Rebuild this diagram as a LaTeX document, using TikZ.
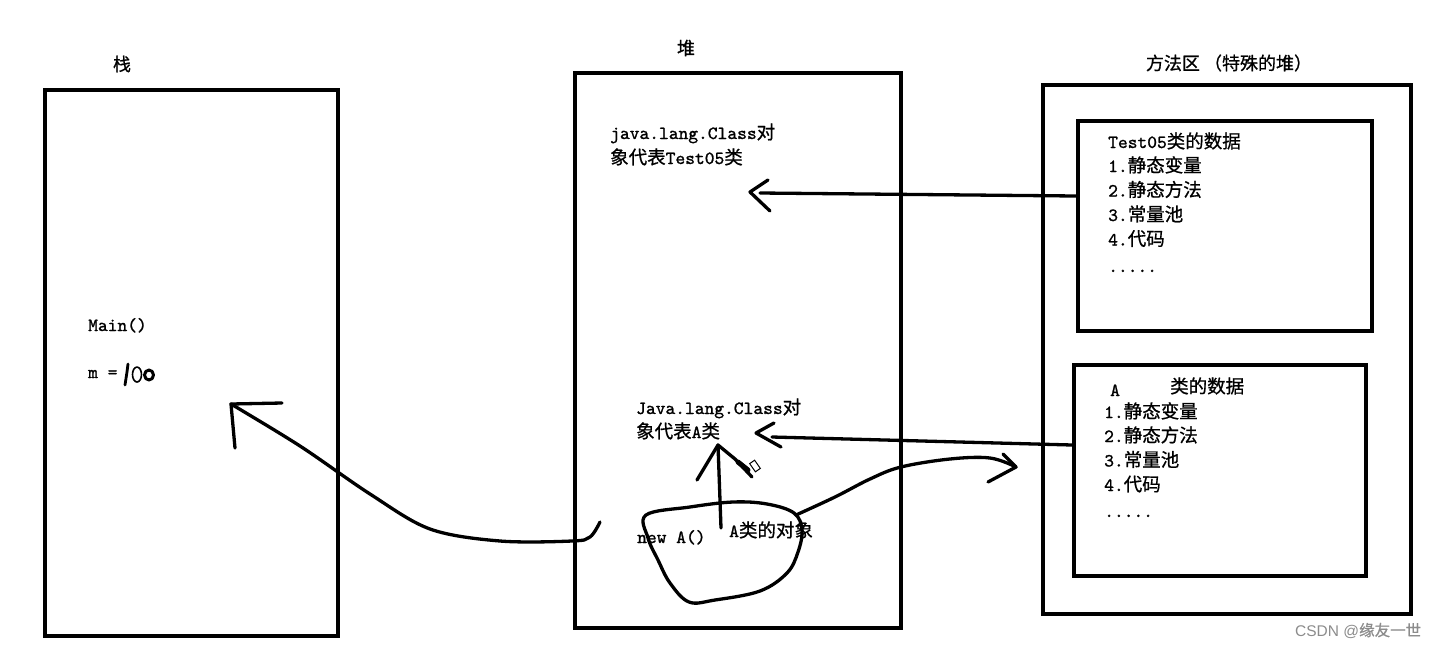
\documentclass[tikz,border=0pt]{standalone}
\usepackage{fontspec}
\setmainfont{lmmono10-regular.otf}[FakeBold=1.2]
\newfontfamily\cjk{Noto Sans CJK SC}[FakeBold=0.8]
\newfontfamily\wmfont{Liberation Sans}
\newcommand\zh[1]{{\cjk\fontsize{18.5}{22}\selectfont #1}}
\begin{document}
\begin{tikzpicture}[x=1pt,y=-1pt,
  frame/.style={draw, line width=3.6pt, inner sep=0pt},
  txt/.style={anchor=base west, inner sep=0pt, font=\fontsize{18.6}{22}\selectfont},
  head/.style={anchor=center, inner sep=0pt, font=\cjk\fontsize{18}{22}\selectfont},
  hand/.style={draw, line width=3.3pt, line cap=round, line join=round},
  thinhand/.style={draw, line width=1.6pt, line cap=round, line join=round}]
\useasboundingbox (0,0) rectangle (1446,649);
\fill[white] (0,0) rectangle (1446,649);

% boxes
\node[frame, minimum width=293pt, minimum height=546pt] (stack) at (191.5,363) {};
\node[frame, minimum width=326pt, minimum height=555pt] (heap) at (738,350.5) {};
\node[frame, minimum width=368pt, minimum height=529pt] (marea) at (1227,349.5) {};
\node[frame, minimum width=294pt, minimum height=210pt] (cls1) at (1225,226) {};
\node[frame, minimum width=292pt, minimum height=211pt] (cls2) at (1220,470.5) {};

% headers
\node[head] (hstack) at (122,64) {栈};
\node[head] (hheap) at (686,48) {堆};
\node[head] (hmarea) at (1229,63) {方法区 （特殊的堆）};

% stack content
\node[txt] (mainf) at (88,331) {Main()};
\node[txt] (meq) at (88,378) {m =};
\path[hand, line width=2.8pt] (128,364) -- (127,372) -- (125,385);
\path[thinhand] (137,374.5) ellipse (4.5 and 7.5);
\path[hand, line width=3pt] (149,375) ellipse (4.5 and 5);

% heap content
\node[txt] (hc1) at (610,139) {java.lang.Class\zh{对}};
\node[txt] (hc2) at (610,164) {\zh{象代表}Test05\zh{类}};
\node[txt] (ha1) at (636,414) {Java.lang.Class\zh{对}};
\node[txt] (ha2) at (636,438) {\zh{象代表}A\zh{类}};
\node[txt] (newa) at (637,543) {new A()};
\node[txt] (aobj) at (729,537) {A\zh{类的对象}};

% method area class 1
\node[txt] (c1t) at (1108,148) {Test05\zh{类的数据}};
\node[txt] (c1a) at (1108,172) {1.\zh{静态变量}};
\node[txt] (c1b) at (1108,196.5) {2.\zh{静态方法}};
\node[txt] (c1c) at (1108,221) {3.\zh{常量池}};
\node[txt] (c1d) at (1108,245.5) {4.\zh{代码}};
\node[txt] (c1e) at (1108,272) {.....};

% method area class 2
\node[txt] (c2a0) at (1110,396) {A};
\node[txt] (c2t) at (1170,393) {\zh{类的数据}};
\node[txt] (c2a) at (1104,418) {1.\zh{静态变量}};
\node[txt] (c2b) at (1104,442) {2.\zh{静态方法}};
\node[txt] (c2c) at (1104,466.5) {3.\zh{常量池}};
\node[txt] (c2d) at (1104,491) {4.\zh{代码}};
\node[txt] (c2e) at (1104,517) {.....};

% watermark
\node[anchor=base west, inner sep=0pt, text=black!45, font=\wmfont\fontsize{15.5}{18}\selectfont] (wm) at (1295,636) {CSDN @{\cjk\fontsize{15.5}{18}\selectfont 缘友一世}};

% coordinates for hand-drawn connectors
\coordinate (t1) at (760,193);
\coordinate (t2) at (772,437);
\coordinate (stip) at (231,404);
\coordinate (vbot) at (721,528);
\coordinate (vtop) at (718,445);
\coordinate (rtip) at (1016,467);

% arrow 1: Test05 class data -> Class object
\path[hand] (cls1.west |- 0,196) -- (t1);
\path[hand] (768,180) -- (750,192) -- (770,211);

% arrow 2: A class data -> Class object
\path[hand] (cls2.west |- 0,445) -- (t2);
\path[hand] (774,423) -- (756,433) -- (781,447);

% vertical arrow in heap
\path[hand] (vbot) -- (vtop);
\path[hand] (697,480) -- (vtop) -- (735,459) -- (752,477);
\path[hand, line width=5pt] (738,462) -- (748,470);
\draw[line width=1pt, fill=white, rotate around={-55:(755,466)}] (750,463) rectangle (760,469);

% blob around the object
\path[hand] plot[smooth cycle, tension=0.6] coordinates {
  (646,515) (690,507) (733,502) (767,504) (794,513) (802,530) (798,552)
  (787,573) (760,591) (715,600) (689,602) (670,583) (658,560) (648,538)};

% blob -> method area (A class)
\path[hand] plot[smooth, tension=0.6] coordinates {
  (796,515) (835,497) (870,479) (901,467) (950,459) (990,458) (rtip)};
\path[hand] (1003,454) -- (rtip) -- (988,482);

% heap object -> stack
\path[hand] plot[smooth, tension=0.55] coordinates {
  (600,522) (590,537) (572,541) (500,541) (430,529) (370,494) (300,446) (stip)};
\path[hand] (282,403) -- (stip) -- (235,448);
\end{tikzpicture}
\end{document}
